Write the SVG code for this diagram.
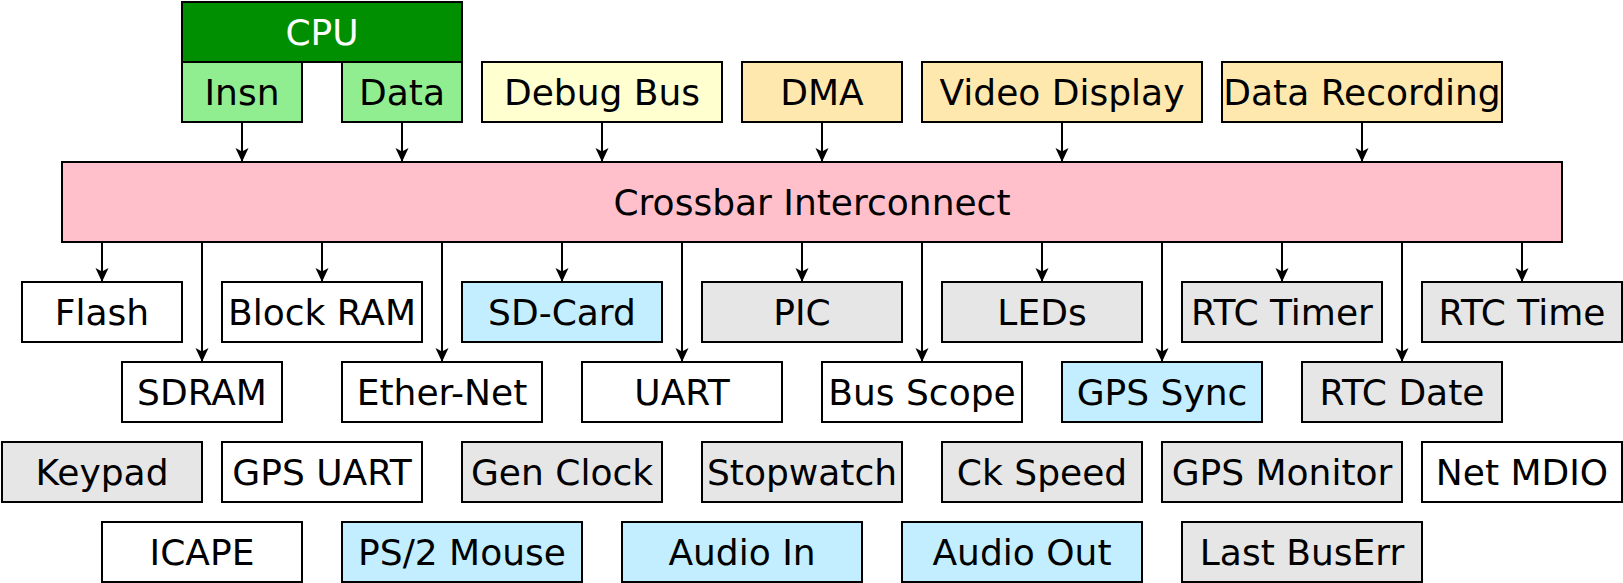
<svg xmlns="http://www.w3.org/2000/svg" width="1623" height="583" viewBox="0 0 1623 583">
<style>
rect{stroke:#000;stroke-width:2}
text{font-family:"DejaVu Sans","Liberation Sans",sans-serif;font-size:36px;text-anchor:middle;fill:#000}
.c{stroke:#000;stroke-width:2;fill:none;marker-end:url(#ah)}
.w{fill:#fff}.g{fill:#e6e6e6}.b{fill:#c2eeff}.o{fill:#ffe8ad}
</style>
<defs>
<marker id="ah" markerUnits="userSpaceOnUse" markerWidth="14" markerHeight="14" viewBox="0 0 14 14" refX="14" refY="7" orient="auto">
<path d="M0,0.5 L14,7 L0,13.5 L3.5,7 z" fill="#000"/>
</marker>
</defs>
<g id="connectors">
<path class="c" d="M242,122V162"/>
<path class="c" d="M402,122V162"/>
<path class="c" d="M602,122V162"/>
<path class="c" d="M822,122V162"/>
<path class="c" d="M1062,122V162"/>
<path class="c" d="M1362,122V162"/>
<path class="c" d="M102,242V282"/>
<path class="c" d="M322,242V282"/>
<path class="c" d="M562,242V282"/>
<path class="c" d="M802,242V282"/>
<path class="c" d="M1042,242V282"/>
<path class="c" d="M1282,242V282"/>
<path class="c" d="M1522,242V282"/>
<path class="c" d="M202,242V362"/>
<path class="c" d="M442,242V362"/>
<path class="c" d="M682,242V362"/>
<path class="c" d="M922,242V362"/>
<path class="c" d="M1162,242V362"/>
<path class="c" d="M1402,242V362"/>
</g>
<g id="cpu"><rect x="182" y="2" width="280" height="60" fill="#008f00"/><text x="322" y="44.8" style="fill:#fff">CPU</text></g>
<g id="insn"><rect x="182" y="62" width="120" height="60" fill="#90ee90"/><text x="242" y="104.8">Insn</text></g>
<g id="data"><rect x="342" y="62" width="120" height="60" fill="#90ee90"/><text x="402" y="104.8">Data</text></g>
<g id="debugbus"><rect x="482" y="62" width="240" height="60" fill="#ffffd0"/><text x="602" y="104.8">Debug Bus</text></g>
<g id="dma"><rect class="o" x="742" y="62" width="160" height="60"/><text x="822" y="104.8">DMA</text></g>
<g id="video"><rect class="o" x="922" y="62" width="280" height="60"/><text x="1062" y="104.8">Video Display</text></g>
<g id="datarec"><rect class="o" x="1222" y="62" width="280" height="60"/><text x="1362" y="104.8">Data Recording</text></g>
<g id="crossbar"><rect x="62" y="162" width="1500" height="80" fill="#ffc0cb"/><text x="812" y="214.8">Crossbar Interconnect</text></g>
<g id="flash"><rect class="w" x="22" y="282" width="160" height="60"/><text x="102" y="324.8">Flash</text></g>
<g id="blockram"><rect class="w" x="222" y="282" width="200" height="60"/><text x="322" y="324.8">Block RAM</text></g>
<g id="sdcard"><rect class="b" x="462" y="282" width="200" height="60"/><text x="562" y="324.8">SD-Card</text></g>
<g id="pic"><rect class="g" x="702" y="282" width="200" height="60"/><text x="802" y="324.8">PIC</text></g>
<g id="leds"><rect class="g" x="942" y="282" width="200" height="60"/><text x="1042" y="324.8">LEDs</text></g>
<g id="rtctimer"><rect class="g" x="1182" y="282" width="200" height="60"/><text x="1282" y="324.8">RTC Timer</text></g>
<g id="rtctime"><rect class="g" x="1422" y="282" width="200" height="60"/><text x="1522" y="324.8">RTC Time</text></g>
<g id="sdram"><rect class="w" x="122" y="362" width="160" height="60"/><text x="202" y="404.8">SDRAM</text></g>
<g id="ethernet"><rect class="w" x="342" y="362" width="200" height="60"/><text x="442" y="404.8">Ether-Net</text></g>
<g id="uart"><rect class="w" x="582" y="362" width="200" height="60"/><text x="682" y="404.8">UART</text></g>
<g id="busscope"><rect class="w" x="822" y="362" width="200" height="60"/><text x="922" y="404.8">Bus Scope</text></g>
<g id="gpssync"><rect class="b" x="1062" y="362" width="200" height="60"/><text x="1162" y="404.8">GPS Sync</text></g>
<g id="rtcdate"><rect class="g" x="1302" y="362" width="200" height="60"/><text x="1402" y="404.8">RTC Date</text></g>
<g id="keypad"><rect class="g" x="2" y="442" width="200" height="60"/><text x="102" y="484.8">Keypad</text></g>
<g id="gpsuart"><rect class="w" x="222" y="442" width="200" height="60"/><text x="322" y="484.8">GPS UART</text></g>
<g id="genclock"><rect class="g" x="462" y="442" width="200" height="60"/><text x="562" y="484.8">Gen Clock</text></g>
<g id="stopwatch"><rect class="g" x="702" y="442" width="200" height="60"/><text x="802" y="484.8">Stopwatch</text></g>
<g id="ckspeed"><rect class="g" x="942" y="442" width="200" height="60"/><text x="1042" y="484.8">Ck Speed</text></g>
<g id="gpsmonitor"><rect class="g" x="1162" y="442" width="240" height="60"/><text x="1282" y="484.8">GPS Monitor</text></g>
<g id="netmdio"><rect class="w" x="1422" y="442" width="200" height="60"/><text x="1522" y="484.8">Net MDIO</text></g>
<g id="icape"><rect class="w" x="102" y="522" width="200" height="60"/><text x="202" y="564.8">ICAPE</text></g>
<g id="ps2mouse"><rect class="b" x="342" y="522" width="240" height="60"/><text x="462" y="564.8">PS/2 Mouse</text></g>
<g id="audioin"><rect class="b" x="622" y="522" width="240" height="60"/><text x="742" y="564.8">Audio In</text></g>
<g id="audioout"><rect class="b" x="902" y="522" width="240" height="60"/><text x="1022" y="564.8">Audio Out</text></g>
<g id="lastbuserr"><rect class="g" x="1182" y="522" width="240" height="60"/><text x="1302" y="564.8">Last BusErr</text></g>
</svg>
